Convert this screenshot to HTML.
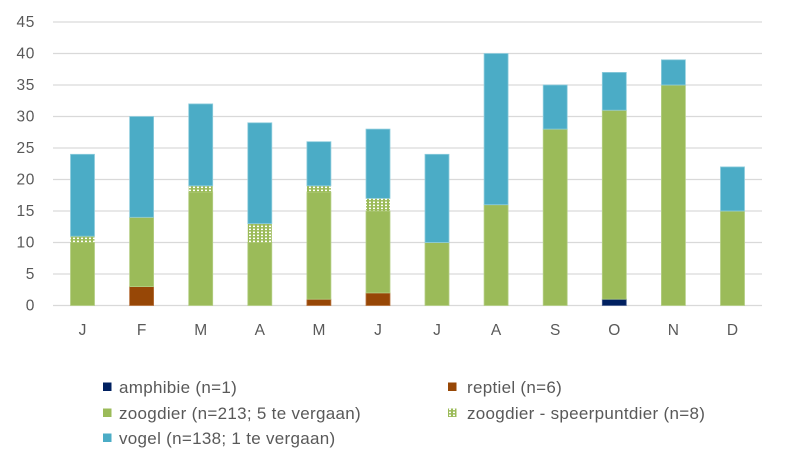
<!DOCTYPE html>
<html>
<head>
<meta charset="utf-8">
<style>
  html,body{margin:0;padding:0;background:#fff;}
  svg{display:block;}
  .tick{font-family:"Liberation Sans",sans-serif;font-size:15.5px;fill:#595959;letter-spacing:0.6px;}
  .leg{font-family:"Liberation Sans",sans-serif;font-size:17px;fill:#595959;letter-spacing:0.3px;}
</style>
</head>
<body>
<svg width="786" height="462" viewBox="0 0 786 462" xmlns="http://www.w3.org/2000/svg">
  <defs>
    <pattern id="dots" x="0" y="0" width="4" height="3" patternUnits="userSpaceOnUse">
      <rect x="0" y="0" width="4" height="3" fill="#9BBB59"/>
      <rect x="1" y="0.6" width="2" height="1.5" fill="#ffffff"/>
    </pattern>
  </defs>
  <rect width="786" height="462" fill="#fff"/>
  <!-- gridlines -->
  <g stroke="#d9d9d9" stroke-width="1.3">
    <line x1="53" y1="22" x2="762" y2="22"/>
    <line x1="53" y1="53.5" x2="762" y2="53.5"/>
    <line x1="53" y1="85" x2="762" y2="85"/>
    <line x1="53" y1="116.5" x2="762" y2="116.5"/>
    <line x1="53" y1="148" x2="762" y2="148"/>
    <line x1="53" y1="179.5" x2="762" y2="179.5"/>
    <line x1="53" y1="211" x2="762" y2="211"/>
    <line x1="53" y1="242.5" x2="762" y2="242.5"/>
    <line x1="53" y1="274" x2="762" y2="274"/>
    <line x1="53" y1="305.5" x2="762" y2="305.5"/>
  </g>
  <!-- y tick labels -->
  <g class="tick" text-anchor="end">
    <text x="35" y="27">45</text>
    <text x="35" y="58.5">40</text>
    <text x="35" y="90">35</text>
    <text x="35" y="121.5">30</text>
    <text x="35" y="153">25</text>
    <text x="35" y="184.5">20</text>
    <text x="35" y="216">15</text>
    <text x="35" y="247.5">10</text>
    <text x="35" y="279">5</text>
    <text x="35" y="310.5">0</text>
  </g>
  <!-- bars -->
  <g stroke-width="0.8">
    <!-- J -->
    <rect x="70.5" y="242.5" width="24" height="63" fill="#9BBB59" stroke="#b5cf85"/>
    <rect x="70.5" y="236.2" width="24" height="6.3" fill="url(#dots)"/>
    <rect x="70.5" y="154.3" width="24" height="81.9" fill="#4BACC6" stroke="#8fcddd"/>
    <!-- F -->
    <rect x="129.6" y="286.6" width="24" height="18.9" fill="#974706" stroke="#b8733f"/>
    <rect x="129.6" y="217.3" width="24" height="69.3" fill="#9BBB59" stroke="#b5cf85"/>
    <rect x="129.6" y="116.5" width="24" height="100.8" fill="#4BACC6" stroke="#8fcddd"/>
    <!-- M -->
    <rect x="188.7" y="192.1" width="24" height="113.4" fill="#9BBB59" stroke="#b5cf85"/>
    <rect x="188.7" y="185.8" width="24" height="6.3" fill="url(#dots)"/>
    <rect x="188.7" y="103.9" width="24" height="81.9" fill="#4BACC6" stroke="#8fcddd"/>
    <!-- A -->
    <rect x="247.8" y="242.5" width="24" height="63" fill="#9BBB59" stroke="#b5cf85"/>
    <rect x="247.8" y="223.6" width="24" height="18.9" fill="url(#dots)"/>
    <rect x="247.8" y="122.8" width="24" height="100.8" fill="#4BACC6" stroke="#8fcddd"/>
    <!-- M -->
    <rect x="306.9" y="299.2" width="24" height="6.3" fill="#974706" stroke="#b8733f"/>
    <rect x="306.9" y="192.1" width="24" height="107.1" fill="#9BBB59" stroke="#b5cf85"/>
    <rect x="306.9" y="185.8" width="24" height="6.3" fill="url(#dots)"/>
    <rect x="306.9" y="141.7" width="24" height="44.1" fill="#4BACC6" stroke="#8fcddd"/>
    <!-- J -->
    <rect x="366" y="292.9" width="24" height="12.6" fill="#974706" stroke="#b8733f"/>
    <rect x="366" y="211" width="24" height="81.9" fill="#9BBB59" stroke="#b5cf85"/>
    <rect x="366" y="198.4" width="24" height="12.6" fill="url(#dots)"/>
    <rect x="366" y="129.1" width="24" height="69.3" fill="#4BACC6" stroke="#8fcddd"/>
    <!-- J -->
    <rect x="425" y="242.5" width="24" height="63" fill="#9BBB59" stroke="#b5cf85"/>
    <rect x="425" y="154.3" width="24" height="88.2" fill="#4BACC6" stroke="#8fcddd"/>
    <!-- A -->
    <rect x="484.1" y="204.7" width="24" height="100.8" fill="#9BBB59" stroke="#b5cf85"/>
    <rect x="484.1" y="53.5" width="24" height="151.2" fill="#4BACC6" stroke="#8fcddd"/>
    <!-- S -->
    <rect x="543.2" y="129.1" width="24" height="176.4" fill="#9BBB59" stroke="#b5cf85"/>
    <rect x="543.2" y="85" width="24" height="44.1" fill="#4BACC6" stroke="#8fcddd"/>
    <!-- O -->
    <rect x="602.3" y="299.2" width="24" height="6.3" fill="#002060" stroke="#4a6090"/>
    <rect x="602.3" y="110.2" width="24" height="189" fill="#9BBB59" stroke="#b5cf85"/>
    <rect x="602.3" y="72.4" width="24" height="37.8" fill="#4BACC6" stroke="#8fcddd"/>
    <!-- N -->
    <rect x="661.4" y="85" width="24" height="220.5" fill="#9BBB59" stroke="#b5cf85"/>
    <rect x="661.4" y="59.8" width="24" height="25.2" fill="#4BACC6" stroke="#8fcddd"/>
    <!-- D -->
    <rect x="720.5" y="211" width="24" height="94.5" fill="#9BBB59" stroke="#b5cf85"/>
    <rect x="720.5" y="166.9" width="24" height="44.1" fill="#4BACC6" stroke="#8fcddd"/>
  </g>
  <!-- x labels -->
  <g class="tick" text-anchor="middle" style="letter-spacing:0">
    <text x="82.5" y="335">J</text>
    <text x="141.6" y="335">F</text>
    <text x="200.7" y="335">M</text>
    <text x="259.8" y="335">A</text>
    <text x="318.9" y="335">M</text>
    <text x="378" y="335">J</text>
    <text x="437" y="335">J</text>
    <text x="496.1" y="335">A</text>
    <text x="555.2" y="335">S</text>
    <text x="614.3" y="335">O</text>
    <text x="673.4" y="335">N</text>
    <text x="732.5" y="335">D</text>
  </g>
  <!-- legend -->
  <rect x="103" y="382.5" width="8.5" height="8.5" fill="#002060"/>
  <text class="leg" x="119" y="393">amphibie (n=1)</text>
  <rect x="448" y="382.5" width="8.5" height="8.5" fill="#974706"/>
  <text class="leg" x="467" y="393">reptiel (n=6)</text>
  <rect x="103" y="408.5" width="8.5" height="8.5" fill="#9BBB59"/>
  <text class="leg" x="119" y="419">zoogdier (n=213; 5 te vergaan)</text>
  <rect x="448" y="408.5" width="8.5" height="8.5" fill="url(#dots)"/>
  <text class="leg" x="467" y="419">zoogdier - speerpuntdier (n=8)</text>
  <rect x="103" y="433.5" width="8.5" height="8.5" fill="#4BACC6"/>
  <text class="leg" x="119" y="444">vogel (n=138; 1 te vergaan)</text>
</svg>
</body>
</html>
